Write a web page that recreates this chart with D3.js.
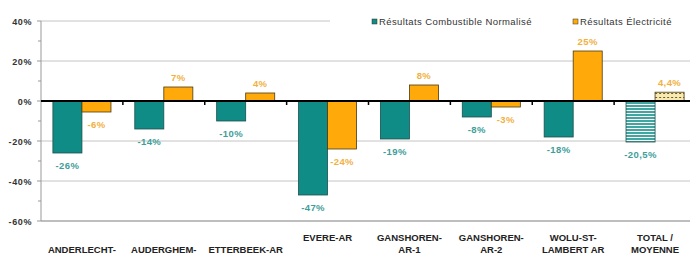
<!DOCTYPE html>
<html>
<head>
<meta charset="utf-8">
<script src="https://cdn.jsdelivr.net/npm/d3@7"></script>
<style>
    body { margin: 0; background: #fff; }
    text { font-family: "Liberation Sans", Arial, sans-serif; }
</style>
</head>
<body>
<div id="chart"></div>
<script>
// categories, split into label lines
let categories = ["ANDERLECHT-AR", "AUDERGHEM-AR", "ETTERBEEK-AR", "EVERE-AR",
    "GANSHOREN-AR-1", "GANSHOREN-AR-2", "WOLU-ST-LAMBERT AR", "TOTAL / MOYENNE"];
let categoryLines = [["ANDERLECHT-", "AR"], ["AUDERGHEM-", "AR"], ["ETTERBEEK-AR"], ["EVERE-AR"],
    ["GANSHOREN-", "AR-1"], ["GANSHOREN-", "AR-2"], ["WOLU-ST-", "LAMBERT AR"], ["TOTAL /", "MOYENNE"]];
// first three labels are pushed down one line in the original
let lineShift = [1, 1, 1, 0, 0, 0, 0, 0];

let seriesNames = ["Résultats Combustible Normalisé", "Résultats Électricité"];
let combustible = [-26, -14, -10, -47, -19, -8, -18, -20.5];
let electricite = [-5.5, 7, 4, -24, 8, -3, 25, 4.4];
let combustibleLabels = ["-26%", "-14%", "-10%", "-47%", "-19%", "-8%", "-18%", "-20,5%"];
let electriciteLabels = ["-6%", "7%", "4%", "-24%", "8%", "-3%", "25%", "4,4%"];

let yTicks = [40, 20, 0, -20, -40, -60];
let yMinorTicks = [30, 10, -10, -30, -50];

let width = 690, height = 259;

let teal = "#0f8c86", orange = "#ffa90a";
let tealText = "#3e9e99", orangeText = "#f2b03e";

let svg = d3.select("#chart").append("svg")
    .attr("width", width).attr("height", height);

let defs = svg.append("defs");
// striped pattern for the total combustible bar
let stripes = defs.append("pattern").attr("id", "stripes")
    .attr("patternUnits", "userSpaceOnUse").attr("width", 6).attr("height", 3);
stripes.append("rect").attr("width", 6).attr("height", 3).attr("fill", "#fff");
stripes.append("rect").attr("width", 6).attr("height", 2).attr("fill", "#3fa6a2");
// dotted pattern for the total electricity bar
let dots = defs.append("pattern").attr("id", "dots")
    .attr("patternUnits", "userSpaceOnUse").attr("width", 4).attr("height", 4);
dots.append("rect").attr("width", 4).attr("height", 4).attr("fill", "#f7e9b0");
dots.append("rect").attr("x", 1).attr("y", 1).attr("width", 2).attr("height", 1).attr("fill", "#6b5a2a");

let y = d3.scaleLinear().domain([-60, 40]).range([221, 21]);
let x = d3.scaleBand().domain(categories).range([41, 696]).paddingInner(0).paddingOuter(0);
let xInner = d3.scaleBand().domain(["c", "e"]).range([0, x.bandwidth()]).paddingOuter(0.41).paddingInner(0);

// gridlines
svg.append("g").selectAll("line").data(yTicks.filter(d => d !== 0))
    .enter().append("line")
    .attr("x1", 41).attr("x2", 696)
    .attr("y1", d => y(d)).attr("y2", d => y(d))
    .attr("stroke", d => d === -60 ? "#a8a8a8" : "#c4c4c4")
    .attr("stroke-width", d => d === -60 ? 1.5 : 1);

// y axis line + ticks
let yAxis = svg.append("g").attr("transform", "translate(41,0)");
yAxis.append("line").attr("y1", y(40)).attr("y2", y(-60)).attr("stroke", "#999");
yAxis.selectAll(".minor").data(yMinorTicks).enter().append("line")
    .attr("x1", -3).attr("x2", 0).attr("y1", d => y(d)).attr("y2", d => y(d))
    .attr("stroke", "#999");
yAxis.selectAll(".major").data(yTicks).enter().append("line")
    .attr("x1", -4).attr("x2", 0).attr("y1", d => y(d)).attr("y2", d => y(d))
    .attr("stroke", "#999");
yAxis.selectAll("text").data(yTicks).enter().append("text")
    .attr("x", -9).attr("y", d => y(d) + 3.5)
    .attr("text-anchor", "end")
    .style("font-size", "9px").style("font-weight", "bold").style("letter-spacing", "0.6px")
    .attr("fill", "#333")
    .text(d => d + "%");

// bars
let groups = svg.append("g").selectAll("g").data(categories).enter().append("g")
    .attr("transform", d => "translate(" + x(d) + ",0)");

groups.append("rect")
    .attr("x", xInner("c")).attr("width", xInner.bandwidth())
    .attr("y", (d, i) => y(Math.max(0, combustible[i])))
    .attr("height", (d, i) => Math.abs(y(combustible[i]) - y(0)))
    .attr("fill", (d, i) => i === 7 ? "url(#stripes)" : teal)
    .attr("stroke", "#1d4f4c").attr("stroke-width", 0.8);

groups.append("rect")
    .attr("x", xInner("e")).attr("width", xInner.bandwidth())
    .attr("y", (d, i) => y(Math.max(0, electricite[i])))
    .attr("height", (d, i) => Math.abs(y(electricite[i]) - y(0)))
    .attr("fill", (d, i) => i === 7 ? "url(#dots)" : orange)
    .attr("stroke", "#4a3a10").attr("stroke-width", 0.8);

// value labels
groups.append("text")
    .attr("x", xInner("c") + xInner.bandwidth() / 2)
    .attr("y", (d, i) => combustible[i] < 0 ? y(combustible[i]) + 16 : y(combustible[i]) - 6)
    .attr("text-anchor", "middle")
    .style("font-size", "9.5px").style("font-weight", "bold").style("letter-spacing", "0.4px")
    .attr("fill", tealText)
    .text((d, i) => combustibleLabels[i]);

groups.append("text")
    .attr("x", xInner("e") + xInner.bandwidth() / 2)
    .attr("y", (d, i) => electricite[i] < 0 ? y(electricite[i]) + 16 : y(electricite[i]) - 6)
    .attr("text-anchor", "middle")
    .style("font-size", "9.5px").style("font-weight", "bold").style("letter-spacing", "0.4px")
    .attr("fill", orangeText)
    .text((d, i) => electriciteLabels[i]);

// zero line with tick marks
svg.append("line").attr("x1", 41).attr("x2", 696)
    .attr("y1", y(0)).attr("y2", y(0))
    .attr("stroke", "#000").attr("stroke-width", 2);
svg.append("g").selectAll("line").data(categories.slice(1)).enter().append("line")
    .attr("x1", d => x(d)).attr("x2", d => x(d))
    .attr("y1", y(0)).attr("y2", y(0) + 4)
    .attr("stroke", "#000").attr("stroke-width", 1.5);

// category labels
let xl = svg.append("g").selectAll("text").data(categories).enter().append("text")
    .attr("x", d => x(d) + x.bandwidth() / 2)
    .attr("text-anchor", "middle")
    .style("font-size", "9.5px").style("font-weight", "bold").attr("fill", "#222");
xl.each(function (d, i) {
    let t = d3.select(this);
    categoryLines[i].forEach(function (line, j) {
        t.append("tspan")
            .attr("x", x(d) + x.bandwidth() / 2)
            .attr("y", 240.5 + (j + lineShift[i]) * 12)
            .text(line);
    });
});

// legend
let legend = svg.append("g");
legend.append("rect").attr("x", 330).attr("y", 14).attr("width", 360).attr("height", 15).attr("fill", "#fff");
let legendX = [372, 573];
let legendColors = [teal, orange];
seriesNames.forEach(function (name, i) {
    legend.append("rect").attr("x", legendX[i]).attr("y", 19)
        .attr("width", 5).attr("height", 5)
        .attr("fill", legendColors[i]).attr("stroke", "#333").attr("stroke-width", 0.5);
    legend.append("text").attr("x", legendX[i] + 7).attr("y", 25)
        .style("font-size", "9.5px").style("letter-spacing", "0.4px").attr("fill", "#333")
        .text(name);
});
</script>
</body>
</html>
